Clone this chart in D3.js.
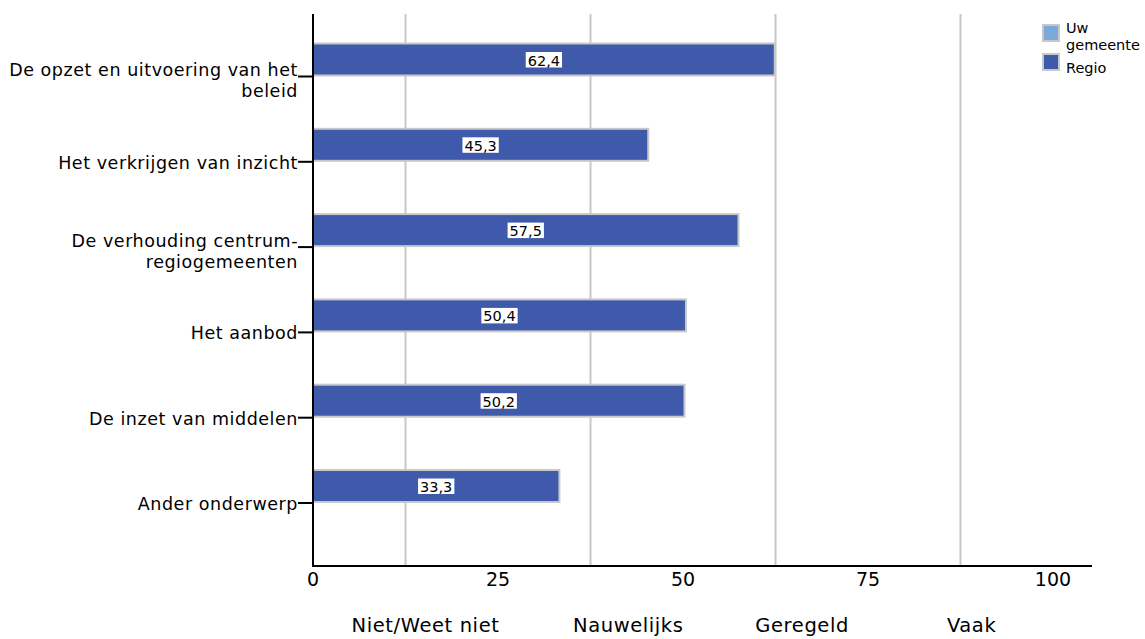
<!DOCTYPE html>
<html><head><meta charset="utf-8">
<script src="https://cdn.jsdelivr.net/npm/d3@7"></script>
<style>
html,body{margin:0;padding:0;background:#fff;}
svg{display:block;font-family:"DejaVu Sans",sans-serif;}
</style></head>
<body><svg id="c" width="1145" height="639"></svg>
<script>
const categories = [
  ["De opzet en uitvoering van het","beleid"],
  ["Het verkrijgen van inzicht"],
  ["De verhouding centrum-","regiogemeenten"],
  ["Het aanbod"],
  ["De inzet van middelen"],
  ["Ander onderwerp"]
];
const seriesNames = ["Regio","Uw gemeente"];
const regioValues = [62.4, 45.3, 57.5, 50.4, 50.2, 33.3];
const uwGemeenteValues = [null, null, null, null, null, null];
const xTicks = [0, 25, 50, 75, 100];
const gridValues = [12.5, 37.5, 62.5, 87.5];
const scaleLabels = ["Niet/Weet niet","Nauwelijks","Geregeld","Vaak"];
const scaleLabelPos = [15.2, 42.6, 66.1, 89.0];

const colors = {"Regio":"#3F59AB","Uw gemeente":"#7AAAD9"};

const svg = d3.select("#c");
const x = d3.scaleLinear().domain([0,100]).range([313,1053]);
const catKeys = categories.map((d,i)=>i);
const y0 = d3.scaleBand().domain(catKeys).range([33.85,545.65]).paddingInner(0).paddingOuter(0);
const y1 = d3.scaleBand().domain(seriesNames).range([8.65,76.65]).padding(0);

const plotTop = 14, plotBottom = 566;

// gridlines
svg.append("g").selectAll("line").data(gridValues).join("line")
  .attr("x1",d=>x(d)).attr("x2",d=>x(d)).attr("y1",plotTop).attr("y2",plotBottom)
  .attr("stroke","#c8c8c8").attr("stroke-width",2);

// bars
const rows = categories.map((c,i)=>({i, vals:[{s:"Regio",v:regioValues[i]},{s:"Uw gemeente",v:uwGemeenteValues[i]}]}));
const g = svg.append("g");
rows.forEach(r=>{
  r.vals.forEach(d=>{
    if(d.v==null) return;
    const by = y0(r.i)+y1(d.s);
    g.append("rect").attr("x",x(0)).attr("y",by+1)
      .attr("width",x(d.v)-x(0)).attr("height",y1.bandwidth()-2)
      .attr("fill",colors[d.s]).attr("stroke","#c8c8c8").attr("stroke-width",2);
    const cx = (x(0)+x(d.v))/2, cy = by + y1.bandwidth()/2;
    const lbl = d3.format(".1f")(d.v).replace(".",",");
    const t = g.append("text").attr("x",cx).attr("y",cy+6).attr("text-anchor","middle")
      .attr("font-size",14.5).attr("fill","#000").text(lbl);
    const bb = t.node().getBBox();
    g.insert("rect", () => t.node()).attr("x",bb.x-2).attr("y",cy-7.5).attr("width",bb.width+4).attr("height",15.5).attr("fill","#fff");
  });
});

// y axis
svg.append("line").attr("x1",x(0)).attr("x2",x(0)).attr("y1",plotTop).attr("y2",plotBottom+1)
  .attr("stroke","#000").attr("stroke-width",2);
const yTickY = i => y0(i)+y0.bandwidth()/2;
svg.append("g").selectAll("line").data(catKeys).join("line")
  .attr("x1",x(0)-15).attr("x2",x(0)).attr("y1",yTickY).attr("y2",yTickY)
  .attr("stroke","#000").attr("stroke-width",2);
const yl = svg.append("g").attr("font-size",17.5).attr("letter-spacing",0.55).attr("fill","#000");
categories.forEach((lines,i)=>{
  const lh = 21;
  const cy = yTickY(i) + (lines.length>1 ? 3 : 0);
  const t = yl.append("text").attr("text-anchor","end").attr("x",298);
  lines.forEach((ln,k)=>{
    t.append("tspan").attr("x",298).attr("y",cy + 7 + (k-(lines.length-1)/2)*lh).text(ln);
  });
});

// x axis
svg.append("line").attr("x1",x(0)-1).attr("x2",1092).attr("y1",plotBottom).attr("y2",plotBottom)
  .attr("stroke","#000").attr("stroke-width",2);
svg.append("g").selectAll("text").data(xTicks).join("text")
  .attr("x",d=>x(d)).attr("y",586).attr("text-anchor","middle").attr("font-size",19).text(d=>d);
svg.append("g").selectAll("text").data(scaleLabels).join("text")
  .attr("x",(d,i)=>x(scaleLabelPos[i])).attr("y",632).attr("text-anchor","middle")
  .attr("font-size",19.5).attr("letter-spacing",0.6).text(d=>d);

// legend
const leg = svg.append("g").attr("font-size",14.5);
const legendItems = [{s:"Uw gemeente",lines:["Uw","gemeente"],y:25,ty:33},{s:"Regio",lines:["Regio"],y:54,ty:73}];
legendItems.forEach(it=>{
  leg.append("rect").attr("x",1043).attr("y",it.y).attr("width",16).attr("height",16)
    .attr("fill",colors[it.s]).attr("stroke","#c8c8c8").attr("stroke-width",2);
  it.lines.forEach((ln,k)=>{
    leg.append("text").attr("x",1066).attr("y", it.ty + k*17).text(ln);
  });
});
</script></body></html>
